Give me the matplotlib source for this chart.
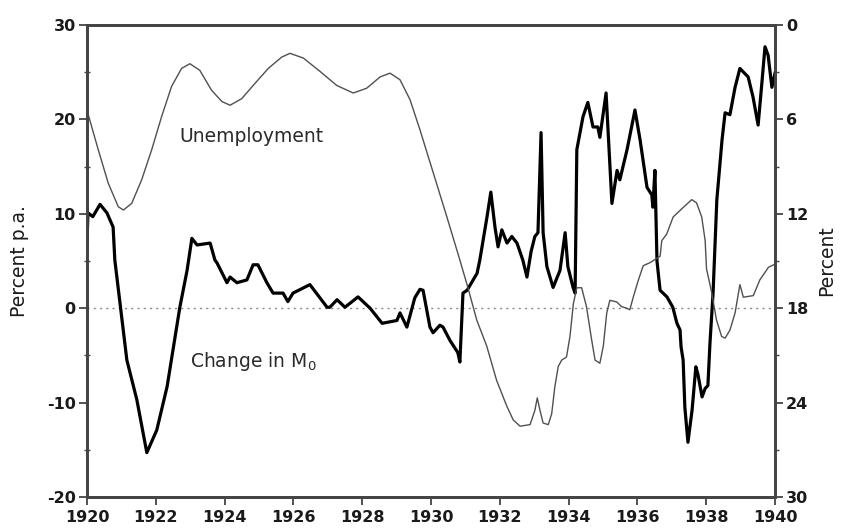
import matplotlib
matplotlib.use("Agg")
import matplotlib.pyplot as plt
from matplotlib.ticker import MultipleLocator

plt.rcParams['font.family'] = ['DejaVu Sans']
plt.rcParams['axes.unicode_minus'] = False
plt.rcParams['mathtext.fontset'] = 'dejavusans'

# Change in M0 (percent p.a., left axis)
m0_year = [1920.00, 1920.03, 1920.17, 1920.38, 1920.58, 1920.76, 1920.81, 1921.16, 1921.45, 1921.74,
           1922.03, 1922.33, 1922.70, 1922.91, 1923.05, 1923.20, 1923.58, 1923.72, 1923.78, 1924.07,
           1924.16, 1924.36, 1924.65, 1924.83, 1924.97, 1925.23, 1925.41, 1925.70, 1925.84, 1925.99,
           1926.48, 1926.98, 1927.06, 1927.27, 1927.50, 1927.88, 1928.23, 1928.58, 1929.01, 1929.10,
           1929.30, 1929.53, 1929.68, 1929.77, 1929.97, 1930.06, 1930.26, 1930.35, 1930.55, 1930.78,
           1930.84, 1930.93, 1931.05, 1931.34, 1931.42, 1931.63, 1931.74, 1931.86, 1931.95, 1932.06,
           1932.21, 1932.35, 1932.50, 1932.67, 1932.79, 1932.91, 1933.02, 1933.11, 1933.20, 1933.26,
           1933.37, 1933.55, 1933.75, 1933.90, 1933.98, 1934.13, 1934.19, 1934.24, 1934.42, 1934.56,
           1934.71, 1934.85, 1934.91, 1935.09, 1935.26, 1935.41, 1935.49, 1935.70, 1935.93, 1936.08,
           1936.28, 1936.42, 1936.45, 1936.51, 1936.57, 1936.66, 1936.86, 1937.03, 1937.15, 1937.24,
           1937.27, 1937.33, 1937.38, 1937.47, 1937.59, 1937.70, 1937.76, 1937.88, 1937.97, 1938.05,
           1938.11, 1938.20, 1938.31, 1938.46, 1938.55, 1938.69, 1938.84, 1938.98, 1939.22, 1939.36,
           1939.51, 1939.62, 1939.71, 1939.80, 1939.91, 1940.00]
m0_value = [7.0, 10.1, 9.7, 11.0, 10.1, 8.6, 5.1, -5.5, -9.7, -15.3,
            -12.9, -8.3, 0.1, 4.0, 7.4, 6.7, 6.9, 5.1, 4.8, 2.7,
            3.3, 2.7, 3.0, 4.6, 4.6, 2.7, 1.6, 1.6, 0.7, 1.6,
            2.5, 0.1, 0.1, 0.9, 0.1, 1.2, 0.0, -1.6, -1.3, -0.5,
            -2.0, 1.1, 2.0, 1.9, -2.0, -2.6, -1.8, -2.0, -3.4, -4.7,
            -5.7, 1.6, 1.9, 3.7, 5.1, 9.7, 12.3, 8.6, 6.5, 8.3,
            6.9, 7.6, 6.9, 5.1, 3.3, 6.0, 7.6, 8.0, 18.6, 8.0,
            4.4, 2.2, 4.0, 8.0, 4.4, 2.2, 1.6, 16.8, 20.3, 21.8,
            19.2, 19.2, 18.1, 22.8, 11.1, 14.6, 13.6, 16.8, 21.0, 17.8,
            12.8, 12.0, 10.7, 14.6, 5.0, 1.9, 1.2, 0.1, -1.6, -2.3,
            -4.1, -5.5, -10.5, -14.2, -10.8, -6.2, -7.0, -9.4, -8.5, -8.2,
            -3.7, 1.6, 11.5, 17.8, 20.7, 20.5, 23.4, 25.4, 24.5, 22.4,
            19.4, 23.9, 27.7, 26.8, 23.4, 24.9]

# Unemployment (percent, right axis, inverted)
un_year = [1920.00, 1920.04, 1920.33, 1920.62, 1920.91, 1921.06, 1921.30, 1921.59, 1921.88, 1922.17,
           1922.46, 1922.75, 1922.99, 1923.28, 1923.62, 1923.92, 1924.16, 1924.50, 1924.88, 1925.27,
           1925.66, 1925.90, 1926.29, 1926.77, 1927.26, 1927.74, 1928.13, 1928.52, 1928.81, 1929.10,
           1929.39, 1929.68, 1930.07, 1930.46, 1930.84, 1931.08, 1931.33, 1931.62, 1931.91, 1932.20,
           1932.39, 1932.59, 1932.88, 1933.02, 1933.09, 1933.17, 1933.26, 1933.41, 1933.51, 1933.60,
           1933.70, 1933.80, 1933.94, 1934.04, 1934.14, 1934.24, 1934.38, 1934.52, 1934.67, 1934.77,
           1934.91, 1935.01, 1935.11, 1935.20, 1935.40, 1935.54, 1935.69, 1935.78, 1935.88, 1936.03,
           1936.17, 1936.37, 1936.66, 1936.71, 1936.85, 1937.04, 1937.33, 1937.58, 1937.72, 1937.87,
           1937.97, 1938.01, 1938.16, 1938.30, 1938.45, 1938.55, 1938.69, 1938.84, 1938.98, 1939.08,
           1939.37, 1939.56, 1939.81, 1940.00]
un_value = [5.6, 5.72, 7.94, 10.06, 11.55, 11.76, 11.34, 9.84, 7.94, 5.82,
            3.9, 2.76, 2.46, 2.88, 4.14, 4.86, 5.1, 4.68, 3.72, 2.76,
            2.04, 1.8, 2.1, 2.94, 3.84, 4.32, 4.02, 3.3, 3.06, 3.48,
            4.74, 6.66, 9.42, 12.18, 14.94, 16.74, 18.75, 20.4, 22.6, 24.2,
            25.1, 25.5, 25.4, 24.5, 23.7, 24.5, 25.3, 25.4, 24.7, 23.0,
            21.7, 21.3, 21.1, 19.8, 17.7, 16.7, 16.7, 17.9, 20.0, 21.3,
            21.5, 20.4, 18.3, 17.5, 17.6, 17.9, 18.0, 18.1, 17.3, 16.2,
            15.3, 15.1, 14.7, 13.7, 13.3, 12.2, 11.6, 11.1, 11.3, 12.2,
            13.7, 15.5, 17.0, 18.75, 19.8, 19.9, 19.4, 18.3, 16.5, 17.3,
            17.2, 16.2, 15.4, 15.2]

left_ticks = [-20, -10, 0, 10, 20, 30]
right_ticks = [0, 6, 12, 18, 24, 30]
year_ticks = list(range(1920, 1941, 2))

fig = plt.figure(figsize=(8.41, 5.29), dpi=100)
ax = fig.add_axes([0.1034, 0.0605, 0.8181, 0.8922])
ax2 = ax.twinx()

spine_col = '#444444'
text_col = '#1a1a1a'
ax.axhline(0, color='#8a8a8a', lw=1.0, ls=(0, (1.5, 3)), zorder=1)
ax.plot(m0_year, m0_value, color='black', lw=2.3, zorder=3, solid_joinstyle='round')
ax2.plot(un_year, un_value, color='#505050', lw=1.0, zorder=2, solid_joinstyle='round')

ax.set_xlim(1920, 1940)
ax.set_ylim(-20, 30)
ax2.set_ylim(30, 0)

ax.set_xticks(year_ticks)
ax.set_yticks(left_ticks)
ax.yaxis.set_minor_locator(MultipleLocator(5))
ax2.set_yticks(right_ticks)
ax2.yaxis.set_minor_locator(MultipleLocator(3))

for a in (ax, ax2):
    for s in a.spines.values():
        s.set_color(spine_col)
        s.set_linewidth(2.0)

ax.tick_params(axis='x', direction='out', length=6, width=1.3, colors=spine_col,
               labelsize=11.5, labelcolor=text_col, pad=3.5)
ax.tick_params(axis='y', which='major', direction='out', length=6, width=1.3, colors=spine_col,
               labelsize=11.5, labelcolor=text_col, pad=2)
ax.tick_params(axis='y', which='minor', direction='inout', length=4, width=1.0, colors=spine_col)
ax2.tick_params(axis='y', which='major', direction='out', length=6, width=1.3, colors=spine_col,
                labelsize=11.5, labelcolor=text_col, pad=2)
ax2.tick_params(axis='y', which='minor', direction='out', length=3, width=1.0, colors=spine_col)

for lab in ax.get_xticklabels() + ax.get_yticklabels() + ax2.get_yticklabels():
    lab.set_fontweight('bold')

ax.set_ylabel('Percent p.a.', fontsize=13.5, color=text_col, labelpad=13)
ax2.set_ylabel('Percent', fontsize=13.5, color=text_col, labelpad=6)

ax.text(1922.7, 18.2, 'Unemployment', fontsize=13.5, color='#2a2a2a', va='center')
ax.text(1923.0, -5.6, 'Change in M$_0$', fontsize=13.5, color='#2a2a2a', va='center')

fig.savefig('out.png', dpi=100)
